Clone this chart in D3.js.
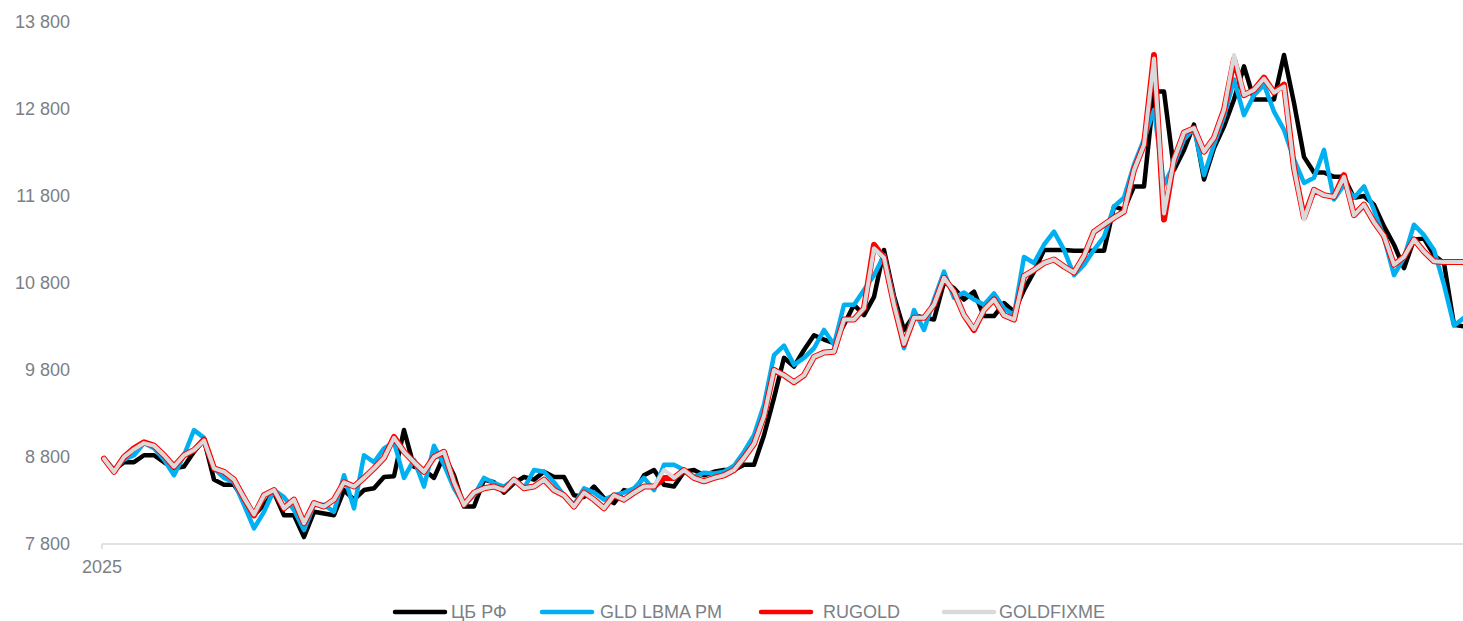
<!DOCTYPE html>
<html>
<head>
<meta charset="utf-8">
<script src="https://cdn.jsdelivr.net/npm/d3@7"></script>
<style>
  html, body { margin: 0; padding: 0; background: #fff; }
  svg { display: block; }
  .tick-label { font-family: "Liberation Sans", Arial, sans-serif; font-size: 18px; fill: #7b7f86; }
  .legend-label { font-family: "Liberation Sans", Arial, sans-serif; font-size: 18px; fill: #7b7f86; }
</style>
</head>
<body>
<svg id="chart" width="1463" height="621"></svg>
<script>
// series names, in drawing order
const seriesNames = ['ЦБ РФ', 'GLD LBMA PM', 'RUGOLD', 'GOLDFIXME'];
const seriesColors = ['#000000', '#00b0f0', '#ff0000', '#d9d9d9'];

// rub per gram
const cbrf = [
  8780, 8650, 8740, 8740, 8820, 8820, 8740, 8670, 8690, 8860,
  9000, 8540, 8480, 8480, 8310, 8130, 8250, 8390, 8130, 8130,
  7880, 8170, 8150, 8130, 8420, 8310, 8420, 8440, 8570, 8580,
  9110, 8690, 8650, 8560, 8820, 8590, 8230, 8230, 8540, 8510,
  8390, 8500, 8570, 8540, 8630, 8570, 8570, 8360, 8340, 8460,
  8330, 8270, 8420, 8390, 8590, 8650, 8480, 8460, 8630, 8650,
  8590, 8630, 8650, 8650, 8710, 8710, 9050, 9480, 9940, 9840,
  10030, 10200, 10150, 10110, 10320, 10550, 10430, 10640, 11180, 10650,
  10260, 10430, 10400, 10380, 10810, 10740, 10610, 10700, 10420, 10420,
  10570, 10470, 10720, 10930, 11180, 11180, 11180, 11170, 11170, 11170,
  11170, 11680, 11640, 11910, 11910, 13000, 13000, 12100, 12330, 12620,
  11990, 12350, 12600, 12910, 13290, 12910, 12910, 12910, 13420, 12870,
  12250, 12070, 12070, 12020, 12020, 11780, 11800, 11700, 11450, 11240,
  10970, 11300, 11310, 11120, 11030, 10320, 10300
];
const lbma = [
  8780, 8650, 8770, 8820, 8960, 8900, 8770, 8590, 8820, 9110,
  9020, 8670, 8560, 8510, 8250, 7980, 8170, 8420, 8340, 8190,
  7960, 8250, 8250, 8170, 8590, 8210, 8820, 8740, 8900, 8970,
  8560, 8770, 8460, 8930, 8710, 8440, 8250, 8360, 8560, 8500,
  8460, 8540, 8440, 8650, 8630, 8510, 8360, 8250, 8440, 8390,
  8310, 8360, 8390, 8440, 8560, 8420, 8710, 8710, 8650, 8570,
  8620, 8610, 8630, 8700, 8860, 9050, 9400, 9970, 10080, 9860,
  9940, 10050, 10260, 10090, 10550, 10550, 10720, 10890, 11120, 10610,
  10050, 10490, 10260, 10610, 10930, 10630, 10690, 10610, 10550, 10680,
  10510, 10430, 11100, 11030, 11240, 11390, 11180, 10890, 11010, 11180,
  11330, 11680, 11780, 12160, 12450, 12790, 11930, 12160, 12450, 12580,
  12040, 12390, 12710, 13140, 12730, 12960, 13080, 12770, 12560, 12220,
  11950, 12010, 12330, 11760, 11930, 11780, 11910, 11640, 11320, 10890,
  11090, 11470, 11350, 11180, 10780, 10310, 10400
];
const rugold = [
  8780, 8630, 8800, 8900, 8970, 8930, 8820, 8690, 8820, 8880,
  9000, 8670, 8630, 8540, 8330, 8130, 8360, 8420, 8210, 8310,
  8040, 8270, 8230, 8310, 8510, 8460, 8560, 8670, 8790, 9030,
  8860, 8740, 8630, 8800, 8860, 8510, 8250, 8390, 8440, 8460,
  8420, 8540, 8440, 8460, 8540, 8420, 8360, 8230, 8390, 8310,
  8210, 8360, 8310, 8390, 8460, 8460, 8560, 8560, 8650, 8560,
  8520, 8560, 8590, 8650, 8790, 8950, 9270, 9800, 9740, 9660,
  9740, 9950, 10000, 10010, 10380, 10380, 10510, 11240, 11090, 10550,
  10090, 10400, 10400, 10550, 10860, 10700, 10430, 10260, 10490, 10610,
  10430, 10380, 10880, 10950, 11030, 11070, 10990, 10920, 11110, 11390,
  11470, 11550, 11620, 12100, 12390, 13420, 11530, 12220, 12530, 12580,
  12310, 12470, 12790, 13370, 12960, 13020, 13160, 12990, 13080, 12120,
  11550, 11870, 11810, 11790, 12040, 11580, 11700, 11500, 11340, 11010,
  11100, 11300, 11160, 11050, 11040, 11040, 11040
];
const goldfixme = [
  8780, 8630, 8800, 8890, 8960, 8930, 8820, 8690, 8820, 8880,
  8990, 8670, 8630, 8540, 8330, 8140, 8360, 8420, 8210, 8310,
  8040, 8270, 8230, 8310, 8510, 8460, 8560, 8670, 8790, 9020,
  8860, 8740, 8630, 8800, 8860, 8510, 8250, 8390, 8440, 8460,
  8420, 8540, 8440, 8460, 8540, 8420, 8360, 8230, 8390, 8310,
  8210, 8360, 8310, 8390, 8460, 8460, 8650, 8560, 8650, 8560,
  8520, 8560, 8590, 8650, 8790, 8950, 9270, 9800, 9740, 9660,
  9740, 9950, 10000, 10010, 10380, 10380, 10510, 11200, 11090, 10550,
  10100, 10400, 10400, 10550, 10860, 10700, 10430, 10270, 10490, 10610,
  10430, 10380, 10880, 10950, 11030, 11070, 10990, 10920, 11110, 11390,
  11470, 11550, 11620, 12100, 12390, 13380, 11600, 12220, 12530, 12580,
  12310, 12470, 12790, 13420, 12960, 13020, 13150, 12990, 13060, 12120,
  11530, 11870, 11810, 11790, 12020, 11580, 11700, 11500, 11340, 11010,
  11100, 11300, 11160, 11050, 11040, 11040, 11040
];

const yTicks = [7800, 8800, 9800, 10800, 11800, 12800, 13800];
const xLabels = ['2025'];

const allSeries = [cbrf, lbma, rugold, goldfixme];
const lineWidths = [4.5, 4.5, 6, 4];

const svg = d3.select('#chart');
const N = cbrf.length;

const x = d3.scaleLinear().domain([0, N - 1]).range([104, 1464]);
const y = d3.scaleLinear().domain([7800, 13800]).range([544, 22]);

const ru = d3.formatLocale({ decimal: ',', thousands: '\u00a0', grouping: [3], currency: ['', ''] });
const fmt = ru.format(',');

// y labels (no gridlines)
svg.append('g')
    .selectAll('text')
    .data(yTicks)
    .join('text')
    .attr('class', 'tick-label')
    .attr('x', 70)
    .attr('y', d => y(d))
    .attr('dy', '0.35em')
    .attr('text-anchor', 'end')
    .text(d => fmt(d));

// x axis line + first tick
svg.append('line')
    .attr('x1', x(0) - 2).attr('x2', 1463)
    .attr('y1', y(7800)).attr('y2', y(7800))
    .attr('stroke', '#d9d9d9').attr('stroke-width', 1.5);
svg.append('line')
    .attr('x1', x(0) - 2).attr('x2', x(0) - 2)
    .attr('y1', y(7800)).attr('y2', y(7800) + 5)
    .attr('stroke', '#d9d9d9').attr('stroke-width', 1.5);
svg.append('g')
    .selectAll('text')
    .data(xLabels)
    .join('text')
    .attr('class', 'tick-label')
    .attr('x', (d, i) => x(i) - 2)
    .attr('y', 573)
    .attr('text-anchor', 'middle')
    .text(d => d);

// lines
const line = d3.line()
    .x((d, i) => x(i))
    .y(d => y(d));

svg.append('g')
    .selectAll('path')
    .data(allSeries)
    .join('path')
    .attr('d', d => line(d))
    .attr('fill', 'none')
    .attr('stroke', (d, i) => seriesColors[i])
    .attr('stroke-width', (d, i) => lineWidths[i])
    .attr('stroke-linejoin', 'round')
    .attr('stroke-linecap', 'round');

// legend (excel-like spacing)
const legendLineX = [393, 540, 759, 942];
const legendTextX = [451, 600, 823, 999];
const legend = svg.append('g')
    .selectAll('g')
    .data(seriesNames)
    .join('g')
    .attr('transform', 'translate(0,612)');
legend.append('line')
    .attr('x1', (d, i) => legendLineX[i] + 2)
    .attr('x2', (d, i) => legendLineX[i] + 52)
    .attr('y1', 0).attr('y2', 0)
    .attr('stroke', (d, i) => seriesColors[i])
    .attr('stroke-width', 4.5)
    .attr('stroke-linecap', 'round');
legend.append('text')
    .attr('class', 'legend-label')
    .attr('x', (d, i) => legendTextX[i])
    .attr('y', 0)
    .attr('dy', '0.36em')
    .text(d => d);
</script>
</body>
</html>
